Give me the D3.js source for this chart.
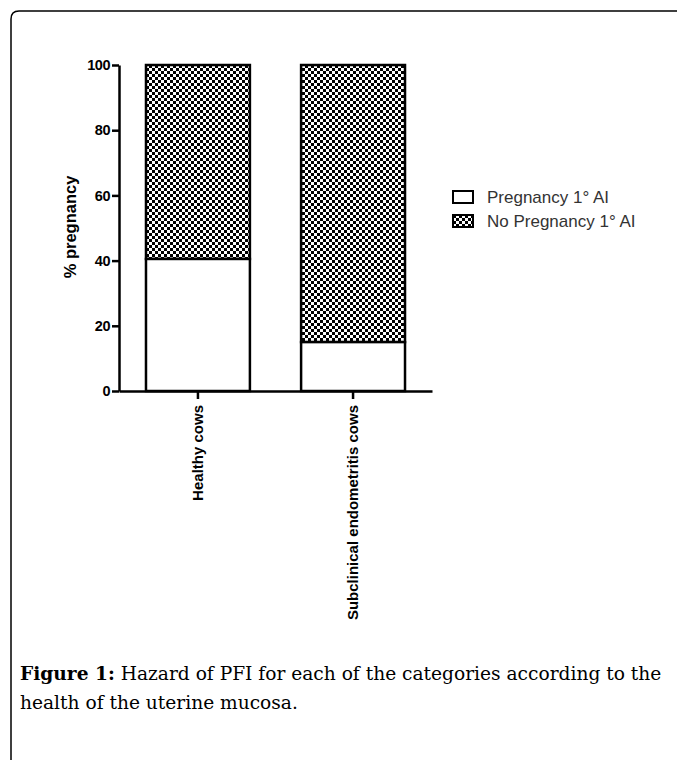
<!DOCTYPE html>
<html>
<head>
<meta charset="utf-8">
<script src="https://cdn.jsdelivr.net/npm/d3@7"></script>
<style>
body { margin: 0; background: #fff; }
svg { display: block; }
.axis text { font-family: "Liberation Sans", Arial, sans-serif; font-weight: bold; fill: #000; }
.axis.y text { font-size: 14.5px; letter-spacing: -0.5px; }
.axis.x text { font-size: 15px; }
.axis path, .axis line { stroke: #000; stroke-width: 2.5; }
</style>
</head>
<body>
<svg id="chart" width="677" height="760"></svg>
<script>
var categories = ["Healthy cows", "Subclinical endometritis cows"];
var pregnancy = [40.5, 15];
var noPregnancy = [59.5, 85];
var yTicks = [0, 20, 40, 60, 80, 100];
var seriesNames = ["Pregnancy 1° AI", "No Pregnancy 1° AI"];

var svg = d3.select("#chart");

// frame round the figure
svg.append("path")
	.attr("d", "M11,760 L11,19 Q11,11 19,11 L677,11")
	.attr("fill", "none")
	.attr("stroke", "#000")
	.attr("stroke-width", 1.5);

// checker pattern
var defs = svg.append("defs");
var pat = defs.append("pattern")
	.attr("id", "checker")
	.attr("patternUnits", "userSpaceOnUse")
	.attr("width", 6).attr("height", 6);
pat.append("rect").attr("width", 6).attr("height", 6).attr("fill", "#fff");
pat.append("rect").attr("width", 3).attr("height", 3).attr("fill", "#000");
pat.append("rect").attr("x", 3).attr("y", 3).attr("width", 3).attr("height", 3).attr("fill", "#000");

var offsetLeft = 119, offsetTop = 65, chartHeight = 326;

var yScale = d3.scaleLinear().domain([0, 100]).range([chartHeight, 0]);
var xScale = d3.scaleBand().domain(categories).range([0, 313]).paddingInner(0.33).paddingOuter(0.174);

var g = svg.append("g").attr("transform", "translate(" + offsetLeft + "," + offsetTop + ")");

// stacked bars
categories.forEach(function(c, i){
	var x0 = xScale(c), w = xScale.bandwidth();
	g.append("rect")
		.attr("x", x0).attr("width", w)
		.attr("y", yScale(pregnancy[i] + noPregnancy[i]))
		.attr("height", yScale(pregnancy[i]) - yScale(pregnancy[i] + noPregnancy[i]))
		.attr("fill", "url(#checker)")
		.attr("stroke", "#000").attr("stroke-width", 2.5);
	g.append("rect")
		.attr("x", x0).attr("width", w)
		.attr("y", yScale(pregnancy[i])).attr("height", chartHeight - yScale(pregnancy[i]))
		.attr("fill", "#fff")
		.attr("stroke", "#000").attr("stroke-width", 2.5);
});

// axes
g.append("g")
	.attr("class", "axis y")
	.call(d3.axisLeft(yScale).tickValues(yTicks).tickSize(7).tickSizeOuter(0).tickPadding(2));

var xAxis = g.append("g")
	.attr("class", "axis x")
	.attr("transform", "translate(0," + chartHeight + ")")
	.call(d3.axisBottom(xScale).tickSize(8).tickSizeOuter(0));
xAxis.selectAll("text")
	.attr("transform", "rotate(-90)")
	.attr("text-anchor", "end")
	.attr("x", -14)
	.attr("y", 0)
	.attr("dy", "0.35em");

// y label
svg.append("text")
	.attr("transform", "translate(76,227) rotate(-90)")
	.attr("text-anchor", "middle")
	.style("font-family", "Liberation Sans, Arial, sans-serif")
	.style("font-weight", "bold")
	.style("font-size", "16.5px")
	.text("% pregnancy");

// legend
var legend = svg.append("g").attr("transform", "translate(453,191)");
seriesNames.forEach(function(name, i){
	var row = legend.append("g").attr("transform", "translate(0," + (i * 24) + ")");
	row.append("rect")
		.attr("width", 20).attr("height", 12)
		.attr("fill", i === 0 ? "#fff" : "url(#checker)")
		.attr("stroke", "#000").attr("stroke-width", 2);
	row.append("text")
		.attr("x", 34).attr("y", 12)
		.style("font-family", "Liberation Sans, Arial, sans-serif")
		.style("font-size", "17px")
		.attr("fill", "#333")
		.text(name);
});

// caption, sized so the first line fills the column
var capFont = "DejaVu Serif, Liberation Serif, serif";
var cap = svg.append("text")
	.attr("x", 20).attr("y", 680)
	.style("font-family", capFont)
	.style("font-size", "18px")
	.attr("fill", "#000");
cap.append("tspan").style("font-weight", "bold").text("Figure 1:");
cap.append("tspan").text(" Hazard of PFI for each of the categories according to the");
var capSize = 18 * 642 / cap.node().getComputedTextLength();
cap.style("font-size", capSize + "px");
svg.append("text")
	.attr("x", 20).attr("y", 709)
	.style("font-family", capFont)
	.style("font-size", capSize + "px")
	.text("health of the uterine mucosa.");
</script>
</body>
</html>
